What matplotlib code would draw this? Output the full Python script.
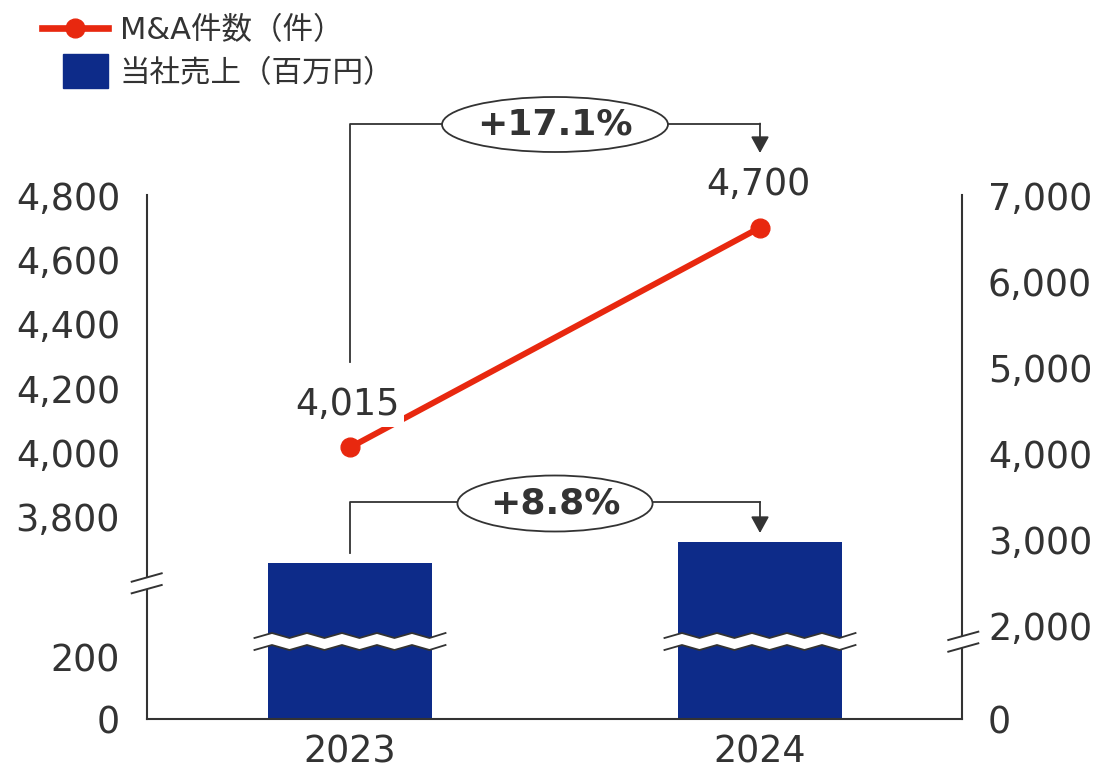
import numpy as np
import matplotlib
matplotlib.use("Agg")
import matplotlib.pyplot as plt
import matplotlib.transforms as mtransforms
from matplotlib.patches import Ellipse, Polygon, Rectangle, Patch
from matplotlib.lines import Line2D
from matplotlib.legend_handler import HandlerPatch

plt.rcParams["font.family"] = ["DejaVu Sans", "Noto Sans CJK JP"]

# ---- data -------------------------------------------------------------
years = ["2023", "2024"]
deal_counts = [4015, 4700]          # M&A件数（件） – left axis
sales = [2725, 2965]                # 当社売上（百万円） – right axis
deal_growth = "+17.1%"
sales_growth = "+8.8%"
left_ticks = [0, 200, 3800, 4000, 4200, 4400, 4600, 4800]
right_ticks = [0, 2000, 3000, 4000, 5000, 6000, 7000]
legend_labels = ["M&A件数（件）", "当社売上（百万円）"]

# ---- style ------------------------------------------------------------
RED = "#E8280F"
BLUE = "#0D2B89"
INK = "#333333"
TICK_FS = 26.3
W, H = 1101, 767
AX_L, AX_R, AX_B, AX_T = 147, 962, 719, 195     # axes box in pixels
AX_W, AX_H = AX_R - AX_L, AX_B - AX_T


def broken_scale(vals, heights):
    """Piecewise-linear mapping used for the broken value axes."""
    vals = np.asarray(vals, float)
    heights = np.asarray(heights, float)
    s0 = (heights[1] - heights[0]) / (vals[1] - vals[0])
    s1 = (heights[-1] - heights[-2]) / (vals[-1] - vals[-2])
    big = 1e7
    v_ext = np.concatenate([[vals[0] - big], vals, [vals[-1] + big]])
    h_ext = np.concatenate([[heights[0] - big * s0], heights, [heights[-1] + big * s1]])

    def fwd(v):
        return np.interp(np.asarray(v, float), v_ext, h_ext)

    def inv(h):
        return np.interp(np.asarray(h, float), h_ext, v_ext)

    return fwd, inv


def frac(px, py):
    """Pixel position -> axes fraction."""
    return (px - AX_L) / AX_W, (AX_B - py) / AX_H


fig = plt.figure(figsize=(W / 100, H / 100), dpi=100)
ax = fig.add_axes([AX_L / W, (H - AX_B) / H, AX_W / W, AX_H / H])
ax2 = ax.twinx()

x = np.arange(len(years))
ax.set_xlim(-0.4951, 1.4927)

# left axis: 0–200, break, 3,800–4,800
lf, li = broken_scale([0, 200, 3800, 4800], [0, 62, 202.5, 523.5])
ax.set_yscale("function", functions=(lf, li))
ax.set_ylim(0, float(li(AX_H)))
# right axis: 0, break, 2,000–7,000
rf, ri = broken_scale([0, 2000, 7000], [0, 94, 523.5])
ax2.set_yscale("function", functions=(rf, ri))
ax2.set_ylim(0, float(ri(AX_H)))

# bars (sales)
ax2.bar(x, sales, width=0.4, color=BLUE, zorder=2)

# line (deal count)
ax.set_zorder(ax2.get_zorder() + 1)
ax.patch.set_visible(False)
ax.plot(x, deal_counts, color=RED, lw=4.3, marker="o", ms=13.5, zorder=3,
        solid_capstyle="butt")
for xv, v in zip(x, deal_counts):
    ax.annotate(f"{v:,}", xy=(xv, v), xytext=(-1.5, 31), textcoords="offset points",
                ha="center", va="center", fontsize=TICK_FS, color=INK, zorder=4,
                bbox=dict(facecolor="white", edgecolor="none", pad=3))

# ticks and spines
ax.set_xticks(x)
ax.set_xticklabels(years)
ax.set_yticks(left_ticks)
ax.set_yticklabels([f"{t:,}" for t in left_ticks])
ax2.set_yticks(right_ticks)
ax2.set_yticklabels([f"{t:,}" for t in right_ticks])
ax.minorticks_off()
ax2.minorticks_off()
ax.tick_params(axis="y", length=0, pad=19.4, labelsize=TICK_FS, labelcolor=INK)
ax.tick_params(axis="x", length=0, pad=10.5, labelsize=TICK_FS, labelcolor=INK)
ax2.tick_params(axis="y", length=0, pad=18.7, labelsize=TICK_FS, labelcolor=INK)
for a in (ax, ax2):
    for s in a.spines.values():
        s.set_visible(False)
        s.set_color(INK)
        s.set_linewidth(1.5)
ax.spines["left"].set_visible(True)
ax.spines["bottom"].set_visible(True)
ax2.spines["right"].set_visible(True)

# spine break marks
for (xa, ya1, xb, yb1, ya2, yb2) in [(131.7, 581.7, 161.7, 573.3, 593.3, 585.0),
                                      (948.3, 640.0, 978.3, 631.7, 651.7, 643.3)]:
    p1, p2, p3, p4 = frac(xa, ya1), frac(xb, yb1), frac(xb, yb2), frac(xa, ya2)
    ax.add_patch(Polygon([p1, p2, p3, p4], closed=True, transform=ax.transAxes,
                         facecolor="white", edgecolor="none", clip_on=False, zorder=8))
    for a, b in [(p1, p2), (p4, p3)]:
        ax.add_line(Line2D([a[0], b[0]], [a[1], b[1]], transform=ax.transAxes,
                           color=INK, lw=1.4, clip_on=False, zorder=9))

# wavy breaks across the bars
trans2 = mtransforms.blended_transform_factory(ax2.transData, ax2.transAxes)
half = 17.5 / 410.0
amp = 2.5 / AX_H
for xv in x:
    x0, x1 = xv - 0.233, xv + 0.233
    n = int(np.ceil((x1 - x0) / half))
    xs = np.linspace(x0, x0 + n * half, n + 1)
    xs[-1] = x1
    sign = np.where(np.arange(n + 1) % 2 == 0, -1.0, 1.0)
    up = 83.5 / AX_H + sign * amp
    lo = 71.5 / AX_H + sign * amp
    verts = list(zip(xs, up)) + list(zip(xs[::-1], lo[::-1]))
    ax2.add_patch(Polygon(verts, closed=True, transform=trans2, facecolor="white",
                          edgecolor="none", clip_on=False, zorder=5))
    for ys in (up, lo):
        ax2.add_line(Line2D(xs, ys, transform=trans2, color=INK, lw=1.3,
                            clip_on=False, zorder=6))

# growth brackets
trans = mtransforms.blended_transform_factory(ax.transData, ax.transAxes)


def bracket(y_start, y_bar, y_tip, label, e_w, e_h, e_y):
    ax.add_line(Line2D([x[0], x[0], x[1]], [y_start, y_bar, y_bar], transform=trans,
                       color=INK, lw=1.3, clip_on=False, zorder=5))
    ax.annotate("", xy=(x[1], y_tip), xycoords=trans, xytext=(x[1], y_bar),
                textcoords=trans, annotation_clip=False, zorder=5,
                arrowprops=dict(arrowstyle="-|>,head_length=1.0,head_width=0.55",
                                color=INK, lw=1.3, shrinkA=0, shrinkB=0))
    xc = (x[0] + x[1]) / 2
    ax.add_patch(Ellipse((xc, e_y), e_w, e_h, transform=trans, facecolor="white",
                         edgecolor=INK, lw=1.3, clip_on=False, zorder=6))
    ax.text(xc, e_y, label, transform=trans, ha="center", va="center",
            fontsize=26, fontweight="bold", color=INK, zorder=7, clip_on=False)


bracket(357 / AX_H, 595.5 / AX_H, 566 / AX_H, deal_growth, 0.551, 55 / AX_H, 594.5 / AX_H)
bracket(166 / AX_H, 217 / AX_H, 186 / AX_H, sales_growth, 0.476, 56 / AX_H, 215.5 / AX_H)


# legend
def square_patch(legend, orig_handle, xdescent, ydescent, width, height, fontsize):
    w = width * 45.0 / 66.0
    h = 34 * 0.72
    return Rectangle((-xdescent + width - w, -ydescent + height / 2 - h / 2), w, h)


handles = [Line2D([], [], color=RED, lw=4.8, marker="o", ms=13.5),
           Patch(color=BLUE)]
leg = fig.legend(handles, legend_labels, loc="upper left",
                 bbox_to_anchor=(42 / W, 1 - 16 / H), frameon=False,
                 fontsize=22, borderpad=0, borderaxespad=0, handlelength=2.16,
                 handletextpad=0.39, labelspacing=0.45,
                 handler_map={Patch: HandlerPatch(patch_func=square_patch)})
for t in leg.get_texts():
    t.set_color(INK)

fig.savefig("out.png", dpi=100)
